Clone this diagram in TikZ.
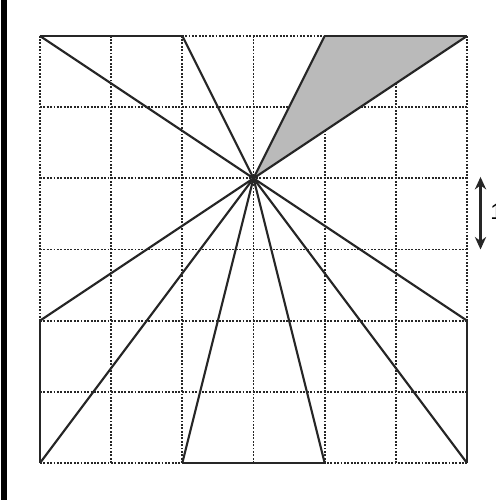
\documentclass[tikz,border=0pt]{standalone}
\usepackage{fontspec}
\setmainfont{Liberation Sans}
\usetikzlibrary{arrows.meta,positioning}

\begin{document}
\begin{tikzpicture}[
    gridline/.style={black!85, line width=0.75pt, dash pattern=on 0.75pt off 0.6pt},
    ray/.style={black!85, line width=0.85pt},
    rim/.style={black!85, line width=0.95pt},
    arrow/.style={{Stealth[length=5pt,width=4.5pt]}-{Stealth[length=5pt,width=4.5pt]}, line width=1pt, black!85}]

    \useasboundingbox (-0.562,-0.520) rectangle (6.407,6.506);

    % Left bar
    \fill[black] (-0.548,-0.520) rectangle (-0.464,6.506);

    % Grid
    \draw[gridline] (0,0) grid (6,6);

    % Points
    \coordinate (c) at (3,4);
    \coordinate (t0) at (0,6);
    \coordinate (t2) at (2,6);
    \coordinate (t4) at (4,6);
    \coordinate (t6) at (6,6);
    \coordinate (l2) at (0,2);
    \coordinate (b0) at (0,0);
    \coordinate (b2) at (2,0);
    \coordinate (b4) at (4,0);
    \coordinate (b6) at (6,0);
    \coordinate (r2) at (6,2);

    % Shaded triangle
    \fill[black!27] (c) -- (t4) -- (t6) -- cycle;

    % Rays
    \foreach \p in {t0,t2,t4,t6,l2,b0,b2,b4,b6,r2}
        \draw[ray] (c) -- (\p);

    % Solid edges
    \draw[rim] (t0) -- (t2);
    \draw[rim] (t4) -- (t6);
    \draw[rim] (l2) -- (b0);
    \draw[rim] (b2) -- (b4);
    \draw[rim] (r2) -- (b6);

    % Unit arrow
    \coordinate (up) at (6.19,4.02);
    \coordinate (dn) at (6.19,3.0);
    \coordinate (mid) at (6.19,3.53);
    \draw[arrow] (up) -- (dn);
    \node[right=0.13cm of mid, inner sep=0pt, font=\fontsize{9}{10}\selectfont] (one) {1};

\end{tikzpicture}
\end{document}
